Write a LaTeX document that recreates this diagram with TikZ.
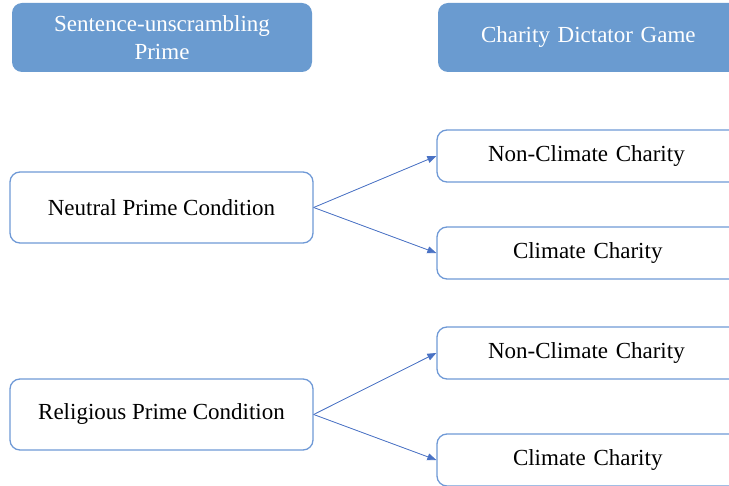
\documentclass[tikz,border=0pt]{standalone}
\usepackage{fontspec}
\setmainfont{Liberation Serif}
\usepackage{xcolor}
\usetikzlibrary{arrows.meta,positioning}
\definecolor{hdrblue}{HTML}{6A9BD0}
\definecolor{lineblue}{HTML}{6F99D6}
\definecolor{arrowblue}{HTML}{4A72C4}

\begin{document}
\begin{tikzpicture}[x=1pt, y=-1pt,
  every node/.style={font=\fontsize{23}{26}\selectfont, align=center},
  header/.style={fill=hdrblue, text=white, rounded corners=10pt, minimum height=69pt, inner sep=2pt},
  condition/.style={draw=lineblue, line width=1.3pt, rounded corners=10pt, minimum width=303pt, minimum height=71pt},
  charity/.style={draw=lineblue, line width=1.3pt, rounded corners=10pt, minimum width=330pt, minimum height=52pt, text width=300pt, align=left},
  edge/.style={-{Triangle[length=9pt,width=7pt]}, draw=arrowblue, fill=arrowblue, line width=0.8pt}
]
\useasboundingbox (0,0) rectangle (729,486);
\clip (0,0) rectangle (729,486);
\node[header, minimum width=300pt] (prime) at (162,37.5) {Sentence-unscrambling\\[2pt]Prime};
\node[header, minimum width=330pt, text width=300pt, align=left] (game) at (603,37.5) {\hspace{28pt}Charity Dictator Game};
\node[condition] (neutral) at (161.5,207.5) {Neutral Prime Condition};
\node[condition] (religious) at (161.5,414.5) {Religious Prime Condition};
\node[charity] (nc1) at (602,156) {\hspace{36pt}Non-Climate Charity};
\node[charity] (c1) at (602,253) {\hspace{61pt}Climate Charity};
\node[charity] (nc2) at (602,353) {\hspace{36pt}Non-Climate Charity};
\node[charity] (c2) at (602,460) {\hspace{61pt}Climate Charity};
\draw[edge] (neutral.east) -- (nc1.west);
\draw[edge] (neutral.east) -- (c1.west);
\draw[edge] (religious.east) -- (nc2.west);
\draw[edge] (religious.east) -- (c2.west);
\end{tikzpicture}
\end{document}
